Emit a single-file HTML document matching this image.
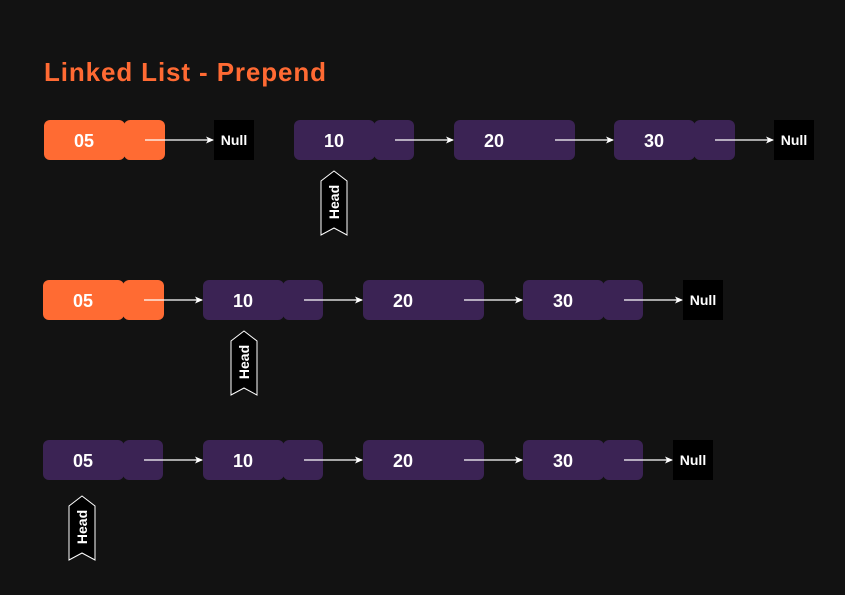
<!DOCTYPE html>
<html><head><style>
body{margin:0;background:#121212;width:845px;height:590px;overflow:hidden;font-family:"Liberation Sans",sans-serif}
</style></head><body>
<svg width="845" height="590" xmlns="http://www.w3.org/2000/svg">
<defs><marker id="a" markerWidth="8" markerHeight="8" refX="7" refY="4" orient="auto" markerUnits="userSpaceOnUse"><path d="M0,0.5 L8,4 L0,7.5 L2,4 Z" fill="#fff"/></marker></defs>
<text x="44" y="81" font-family="Comic Sans MS, Liberation Sans, sans-serif" font-weight="bold" font-size="26" letter-spacing="1" textLength="283" fill="#ff6a33">Linked List - Prepend</text>
<g font-size="18" font-weight="bold" fill="#fff" text-anchor="middle">
<rect x="44" y="120" width="81" height="40" rx="6" fill="#ff6b33"/><rect x="124" y="120" width="41" height="40" rx="6" fill="#ff6b33"/>
<text x="84" y="147">05</text>
<rect x="214" y="120" width="40" height="40" fill="#000"/><text x="234" y="145" font-size="14">Null</text>
<rect x="294" y="120" width="81" height="40" rx="6" fill="#3b2354"/><rect x="374" y="120" width="40" height="40" rx="6" fill="#3b2354"/><text x="334" y="147">10</text>
<rect x="454" y="120" width="121" height="40" rx="6" fill="#3b2354"/><text x="494" y="147">20</text>
<rect x="614" y="120" width="81" height="40" rx="6" fill="#3b2354"/><rect x="694" y="120" width="41" height="40" rx="6" fill="#3b2354"/><text x="654" y="147">30</text>
<rect x="774" y="120" width="40" height="40" fill="#000"/><text x="794" y="145" font-size="14">Null</text>
<rect x="43" y="280" width="81" height="40" rx="6" fill="#ff6b33"/><rect x="123" y="280" width="41" height="40" rx="6" fill="#ff6b33"/><text x="83" y="307">05</text>
<rect x="203" y="280" width="81" height="40" rx="6" fill="#3b2354"/><rect x="283" y="280" width="40" height="40" rx="6" fill="#3b2354"/><text x="243" y="307">10</text>
<rect x="363" y="280" width="121" height="40" rx="6" fill="#3b2354"/><text x="403" y="307">20</text>
<rect x="523" y="280" width="81" height="40" rx="6" fill="#3b2354"/><rect x="603" y="280" width="40" height="40" rx="6" fill="#3b2354"/><text x="563" y="307">30</text>
<rect x="683" y="280" width="40" height="40" fill="#000"/><text x="703" y="305" font-size="14">Null</text>
<rect x="43" y="440" width="81" height="40" rx="6" fill="#3b2354"/><rect x="123" y="440" width="40" height="40" rx="6" fill="#3b2354"/><text x="83" y="467">05</text>
<rect x="203" y="440" width="81" height="40" rx="6" fill="#3b2354"/><rect x="283" y="440" width="40" height="40" rx="6" fill="#3b2354"/><text x="243" y="467">10</text>
<rect x="363" y="440" width="121" height="40" rx="6" fill="#3b2354"/><text x="403" y="467">20</text>
<rect x="523" y="440" width="81" height="40" rx="6" fill="#3b2354"/><rect x="603" y="440" width="40" height="40" rx="6" fill="#3b2354"/><text x="563" y="467">30</text>
<rect x="673" y="440" width="40" height="40" fill="#000"/><text x="693" y="465" font-size="14">Null</text>
</g>
<g stroke="#fff" stroke-width="1.2" marker-end="url(#a)">
<line x1="145" y1="140" x2="213" y2="140"/><line x1="395" y1="140" x2="453" y2="140"/><line x1="555" y1="140" x2="613" y2="140"/><line x1="715" y1="140" x2="773" y2="140"/>
<line x1="144" y1="300" x2="202" y2="300"/><line x1="304" y1="300" x2="362" y2="300"/><line x1="464" y1="300" x2="522" y2="300"/><line x1="624" y1="300" x2="682" y2="300"/>
<line x1="144" y1="460" x2="202" y2="460"/><line x1="304" y1="460" x2="362" y2="460"/><line x1="464" y1="460" x2="522" y2="460"/><line x1="624" y1="460" x2="672" y2="460"/>
</g>
<g fill="#000" stroke="#fff" stroke-width="1">
<polygon points="321,181 334,171 347,181 347,235 334,228 321,235"/>
<polygon points="231,341 244,331 257,341 257,395 244,388 231,395"/>
<polygon points="69,506 82,496 95,506 95,560 82,553 69,560"/>
</g>
<g fill="#fff" font-size="14" font-weight="bold" text-anchor="middle">
<text transform="translate(339,202) rotate(-90)">Head</text>
<text transform="translate(249,362) rotate(-90)">Head</text>
<text transform="translate(87,527) rotate(-90)">Head</text>
</g>
</svg>
</body></html>
